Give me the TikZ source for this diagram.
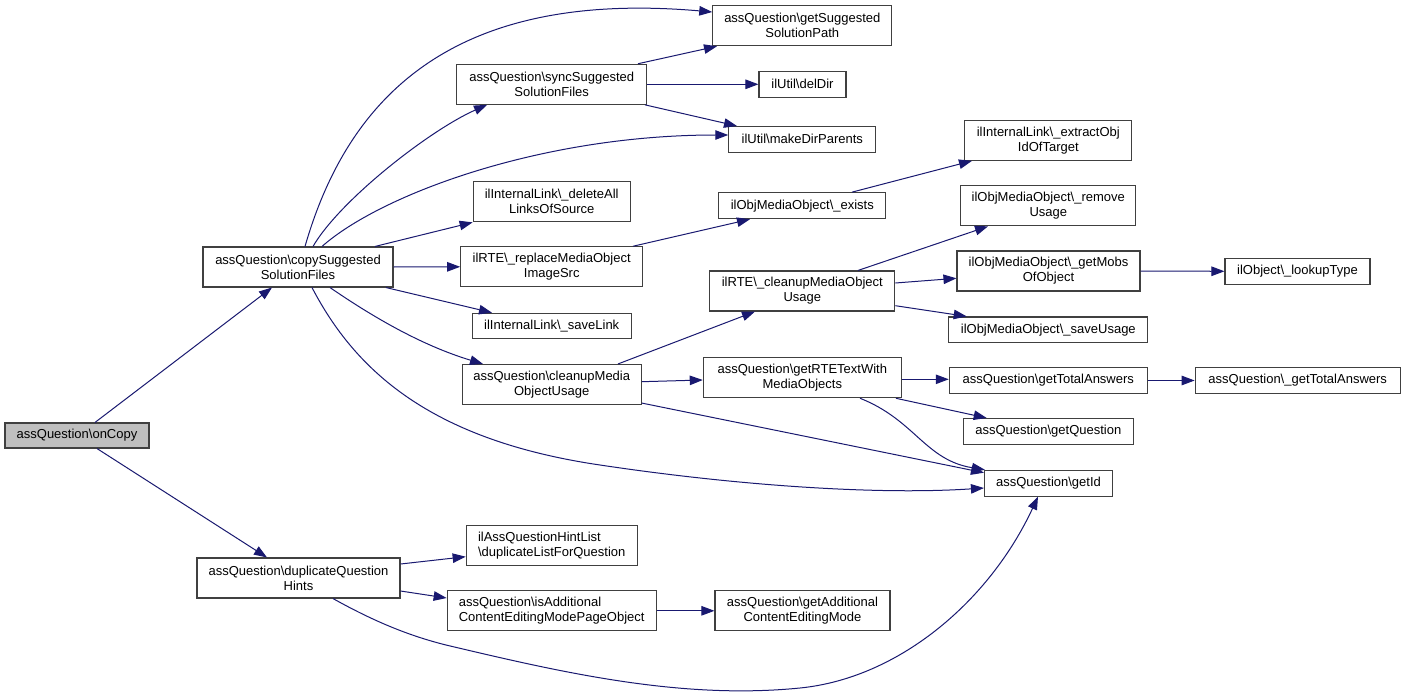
\documentclass[tikz,border=0pt]{standalone}
\usepackage{fontspec}
\setmainfont{Liberation Sans}
\usetikzlibrary{arrows.meta}
\definecolor{edgeblue}{HTML}{191970}
\definecolor{boxgray}{HTML}{404040}
\definecolor{rootfill}{HTML}{BFBFBF}
\newcommand{\bsl}{\textbackslash}
\begin{document}
\begin{tikzpicture}[x=1pt,y=1pt,
  fn/.style={draw=boxgray, line width=1.1pt, fill=white, inner sep=0pt, align=center,
    font=\fontsize{13}{15}\selectfont, text=black},
  root/.style={fn, fill=rootfill},
  call/.style={draw=edgeblue, line width=1pt, fill=none,
    arrows={-{Triangle[length=13pt,width=9.5pt,fill=edgeblue]}}}
]
\useasboundingbox (0,0) rectangle (1405,-698);
\fill[white] (0,0) rectangle (1405,-698);

% nodes
\node[root, minimum width=144pt, minimum height=25pt] (onCopy) at (77,-435.5) {assQuestion\bsl{}onCopy};
\node[fn, minimum width=190pt, minimum height=40pt] (copy) at (298,-267) {assQuestion\bsl{}copySuggested\\SolutionFiles};
\node[fn, minimum width=203pt, minimum height=40pt] (dup) at (298.5,-578) {assQuestion\bsl{}duplicateQuestion\\Hints};
\node[fn, minimum width=179pt, minimum height=40pt] (gsp) at (802.3,-25.7) {assQuestion\bsl{}getSuggested\\SolutionPath};
\node[fn, minimum width=190pt, minimum height=40pt] (sync) at (551.7,-84.3) {assQuestion\bsl{}syncSuggested\\SolutionFiles};
\node[fn, minimum width=87pt, minimum height=26pt] (delDir) at (802.5,-84.3) {ilUtil\bsl{}delDir};
\node[fn, minimum width=147pt, minimum height=25.5pt] (mkDir) at (802.3,-139.3) {ilUtil\bsl{}makeDirParents};
\node[fn, minimum width=157pt, minimum height=40pt] (delAll) at (551.7,-201.8) {ilInternalLink\bsl\_deleteAll\\LinksOfSource};
\node[fn, minimum width=182pt, minimum height=40pt] (replace) at (551.7,-266.8) {ilRTE\bsl\_replaceMediaObject\\ImageSrc};
\node[fn, minimum width=159pt, minimum height=25.5pt] (saveLink) at (551.7,-326) {ilInternalLink\bsl\_saveLink};
\node[fn, minimum width=179pt, minimum height=40pt] (cleanup) at (551.7,-384.5) {assQuestion\bsl{}cleanupMedia\\ObjectUsage};
\node[fn, minimum width=167pt, minimum height=26pt] (exists) at (802.3,-205.7) {ilObjMediaObject\bsl\_exists};
\node[fn, minimum width=185pt, minimum height=40pt] (rteclean) at (802.3,-291) {ilRTE\bsl\_cleanupMediaObject\\Usage};
\node[fn, minimum width=198pt, minimum height=40pt] (getRTE) at (802.3,-377.7) {assQuestion\bsl{}getRTETextWith\\MediaObjects};
\node[fn, minimum width=167pt, minimum height=40pt] (extract) at (1048.3,-140.3) {ilInternalLink\bsl\_extractObj\\IdOfTarget};
\node[fn, minimum width=175pt, minimum height=40pt] (remove) at (1048.3,-205.8) {ilObjMediaObject\bsl\_remove\\Usage};
\node[fn, minimum width=183pt, minimum height=40pt] (getMobs) at (1048.5,-271) {ilObjMediaObject\bsl\_getMobs\\OfObject};
\node[fn, minimum width=145pt, minimum height=25.5pt] (lookup) at (1297.5,-271.3) {ilObject\bsl\_lookupType};
\node[fn, minimum width=199pt, minimum height=25.7pt] (saveUsage) at (1048.3,-329.8) {ilObjMediaObject\bsl\_saveUsage};
\node[fn, minimum width=198pt, minimum height=25.6pt] (getTotal) at (1048.3,-380.5) {assQuestion\bsl{}getTotalAnswers};
\node[fn, minimum width=205pt, minimum height=25.6pt] (getTotalU) at (1297.7,-380.5) {assQuestion\bsl\_getTotalAnswers};
\node[fn, minimum width=170pt, minimum height=25.5pt] (getQuestion) at (1048.3,-431.3) {assQuestion\bsl{}getQuestion};
\node[fn, minimum width=128pt, minimum height=25.7pt] (getId) at (1048.5,-483.2) {assQuestion\bsl{}getId};
\node[fn, align=left, minimum width=171pt, minimum height=40pt] (dupList) at (551.7,-545.8) {ilAssQuestionHintList\\\bsl{}duplicateListForQuestion};
\node[fn, align=left, minimum width=209pt, minimum height=40pt] (isAdd) at (551.7,-610.8) {assQuestion\bsl{}isAdditional\\ContentEditingModePageObject};
\node[fn, minimum width=175pt, minimum height=40pt] (getAdd) at (802.5,-610.8) {assQuestion\bsl{}getAdditional\\ContentEditingMode};

% edges
\draw[call] ([xshift=18pt]onCopy.north) -- ([xshift=-26pt]copy.south);
\draw[call] ([xshift=20pt]onCopy.south) -- ([xshift=-31.5pt]dup.north);

\draw[call] ([xshift=7pt]copy.north) .. controls (350,-90) and (460,10) .. ([yshift=13.7pt]gsp.west);
\draw[call] ([xshift=15pt]copy.north) .. controls (340,-200) and (430,-130) .. ([xshift=-64.7pt]sync.south);
\draw[call] ([xshift=24pt]copy.north) .. controls (380,-195) and (540,-135) .. ([yshift=4.3pt]mkDir.west);
\draw[call] ([xshift=77pt]copy.north) -- (delAll.south west);
\draw[call] (copy.east) -- (replace.west);
\draw[call] ([xshift=88pt]copy.south) -- ([xshift=-59.7pt]saveLink.north);
\draw[call] ([xshift=32pt]copy.south) .. controls (370,-315) and (420,-345) .. ([xshift=-68.7pt]cleanup.north);
\draw[call] ([xshift=14pt]copy.south) .. controls (355,-370) and (430,-440) .. (600,-465)
   .. controls (740,-486) and (880,-495) .. ([yshift=-4.8pt]getId.west);

\draw[call] ([xshift=86.3pt]sync.north) -- ([xshift=-85.3pt]gsp.south);
\draw[call] (sync.east) -- (delDir.west);
\draw[call] ([xshift=93.3pt]sync.south) -- ([xshift=-65.3pt]mkDir.north);

\draw[call] ([xshift=81.3pt]replace.north) -- ([xshift=-52.3pt]exists.south);
\draw[call] ([xshift=49.7pt]exists.north) -- ([xshift=-76.3pt]extract.south);

\draw[call] ([xshift=66.3pt]cleanup.north) -- ([xshift=-47.3pt]rteclean.south);
\draw[call] ([yshift=2.8pt]cleanup.east) -- ([yshift=-2.3pt]getRTE.west);
\draw[call] ([yshift=2pt]cleanup.south east) -- ([yshift=10.5pt]getId.west);

\draw[call] ([xshift=55.7pt]rteclean.north) -- ([xshift=-60.3pt]remove.south);
\draw[call] ([yshift=8pt]rteclean.east) -- ([yshift=-7.3pt]getMobs.west);
\draw[call] ([yshift=-14.7pt]rteclean.east) -- ([xshift=-81.6pt]saveUsage.north);
\draw[call] (getMobs.east) -- (lookup.west);

\draw[call] ([yshift=-1.6pt]getRTE.east) -- ([yshift=1.2pt]getTotal.west);
\draw[call] ([xshift=-6pt]getRTE.south east) -- ([xshift=-61.6pt]getQuestion.north);
\draw[call] ([xshift=57.7pt]getRTE.south) .. controls (915,-420) and (925,-460) .. ([xshift=1pt]getId.north west);
\draw[call] (getTotal.east) -- (getTotalU.west);

\draw[call] ([yshift=14pt]dup.east) -- ([yshift=-10.9pt]dupList.west);
\draw[call] ([yshift=-13pt]dup.east) -- ([yshift=12.8pt]isAdd.west);
\draw[call] ([xshift=34.5pt]dup.south) .. controls (375,-622) and (410,-636) .. (446,-645)
   .. controls (560,-672) and (680,-700) .. (800,-688)
   .. controls (900,-678) and (990,-600) .. ([xshift=-10.5pt]getId.south);
\draw[call] (isAdd.east) -- (getAdd.west);
\end{tikzpicture}
\end{document}
